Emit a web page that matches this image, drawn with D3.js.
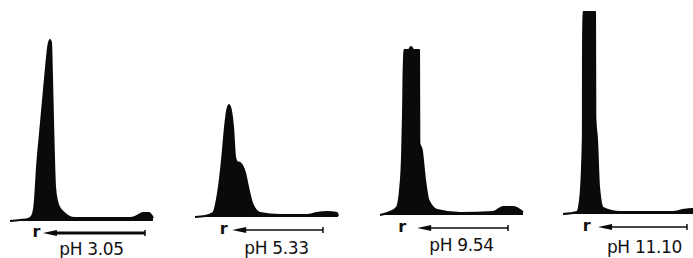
<!DOCTYPE html>
<html>
<head>
<meta charset="utf-8">
<script src="https://cdn.jsdelivr.net/npm/d3@7"></script>
<style>
  body { margin: 0; background: #fff; }
  svg { display: block; }
  .label { font-family: "DejaVu Sans", sans-serif; font-size: 17px; fill: #111; letter-spacing: -0.3px; }
  .origin { font-family: "DejaVu Sans", sans-serif; font-size: 16px; font-weight: bold; fill: #111; }
</style>
</head>
<body>
<svg id="visualisation" width="693" height="258"></svg>
<script>
// panel titles
var labels = ["pH 3.05", "pH 5.33", "pH 9.54", "pH 11.10"];

// densitometer traces: [migration distance (0-100), absorbance (0-100)]
var trace305 = [[0,0],[7,0.5],[12.6,1],[15.4,2.5],[16.8,6],[17.5,11],[18.9,27],[21,44],[23.1,60.5],
  [25.2,77],[26.9,88],[28,90.5],[28.7,89],[29.2,77],[30.3,44],[31.5,17],[32.9,10],[34.3,7],
  [37.1,4.5],[40.6,2.5],[45.5,1.5],[83.9,1.5],[88.8,2.5],[93,4],[97.2,4],[100,1.5]];
var trace533 = [[0,0],[7,0.5],[12.6,2],[16.1,12],[18.9,28.5],[21,45],[22.4,53],[23.8,56],[25.2,53],
  [26.6,45],[28,30],[29.4,27.5],[31.5,27],[35,22],[37.1,15],[39.9,7],[45.5,2],[59.4,1],
  [78.3,1],[85.3,2],[92.3,2.5],[99.3,2],[100,0.5]];
var trace954 = [[0,0],[7,1.5],[11.9,4],[14,12.5],[15.4,29],[16.1,51],[16.8,82.5],[20.3,82.5],
  [21,83.5],[21.7,84],[22.4,83.5],[23.1,82.5],[27.3,82.5],[27.5,36],[29.2,32.5],[31.5,17.5],
  [33.8,7.5],[39.9,2.5],[55.9,1],[79,1.5],[86,4],[93,4],[100,1.5]];
var trace1110 = [[0,0],[9.8,1],[11.9,7],[13.3,23.5],[13.9,40],[14,101],[22.4,101],[22.6,48.5],
  [23.8,37],[25.2,13.5],[28,3],[39.9,1],[76.9,1],[83.9,2],[90.2,2.5],[100,1.5]];
var traces = [trace305, trace533, trace954, trace1110];

// origin mark "r" and migration arrow (distance units)
var originAt = [18.5, 20, 15.5, 16.5];
var arrowStart = [23, 26, 26, 24.5];
var arrowEnd = [94.4, 89.5, 89.5, 86.7];

function drawPanel(vis, i, left, base, labelY) {
   var xScale = d3.scaleLinear().domain([0, 100]).range([left, left + 143]),
       yScale = d3.scaleLinear().domain([0, 100]).range([base, base - 200]);

   var areaGen = d3.area()
      .x(function(d) { return xScale(d[0]); })
      .y0(base)
      .y1(function(d) { return yScale(d[1]); })
      .curve(d3.curveMonotoneX);

   var lineGen = d3.line()
      .x(function(d) { return xScale(d[0]); })
      .y(function(d) { return yScale(d[1]); })
      .curve(d3.curveMonotoneX);

   var g = vis.append("g");

   g.append("path")
      .attr("d", areaGen(traces[i]))
      .attr("fill", "#0a0a0a");

   g.append("path")
      .attr("d", lineGen(traces[i]))
      .attr("stroke", "#0a0a0a")
      .attr("stroke-width", 2)
      .attr("stroke-linejoin", "round")
      .attr("fill", "none");

   // arrow pointing back to origin
   var ay = base + 12 + (i > 0 ? 1 : 0),
       x0 = xScale(arrowStart[i]),
       x1 = xScale(arrowEnd[i]);
   g.append("path")
      .attr("d", "M" + x0 + "," + ay + "L" + (x0 + 14) + "," + (ay - 3) + "L" + (x0 + 14) + "," + (ay + 3) + "Z")
      .attr("fill", "#0a0a0a");
   g.append("line")
      .attr("x1", x0 + 10).attr("x2", x1)
      .attr("y1", ay).attr("y2", ay)
      .attr("stroke", "#0a0a0a")
      .attr("stroke-width", i == 0 ? 3 : 1.5);
   g.append("line")
      .attr("x1", x1).attr("x2", x1)
      .attr("y1", ay - 3).attr("y2", ay + 3)
      .attr("stroke", "#0a0a0a")
      .attr("stroke-width", 1.5);

   g.append("text")
      .attr("class", "origin")
      .attr("x", xScale(originAt[i]))
      .attr("y", ay + 4)
      .attr("text-anchor", "middle")
      .text("r");

   g.append("text")
      .attr("class", "label")
      .attr("x", xScale(57))
      .attr("y", labelY)
      .attr("text-anchor", "middle")
      .text(labels[i]);
}

var vis = d3.select("#visualisation");
vis.append("rect").attr("width", 693).attr("height", 258).attr("fill", "#fff");

var lefts = [10, 195, 380, 563],
    bases = [221, 217, 215, 214],
    labelYs = [255, 254, 251, 253];

for (var ndx = 0; ndx < traces.length; ndx++) {
   drawPanel(vis, ndx, lefts[ndx], bases[ndx], labelYs[ndx]);
}
</script>
</body>
</html>
